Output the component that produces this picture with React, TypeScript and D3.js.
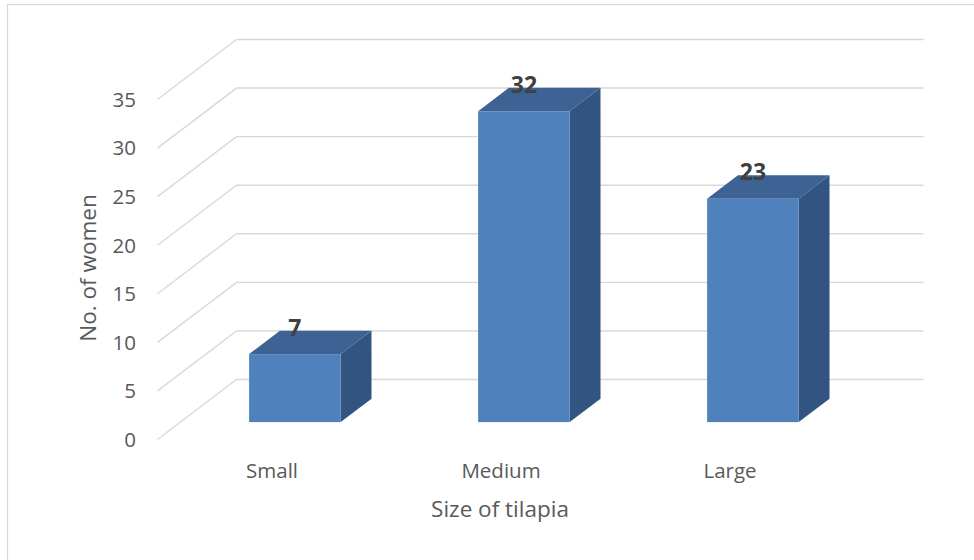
import * as d3 from "d3";

const categories = ["Small", "Medium", "Large"];
const values = [7, 32, 23];
const yTicks = [0, 5, 10, 15, 20, 25, 30, 35];
const yTitle = "No. of women";
const xTitle = "Size of tilapia";

const W = 974;
const H = 560;

// front plane of the 3D box, back wall is shifted by (DX, DY)
const FRONT_LEFT = 157.5;
const FRONT_RIGHT = 844.5;
const DX = 79;
const DY = -60;
// bars sit a bit inside the floor depth
const BAR_Z0 = 0.29;
const BAR_DEPTH = 0.39;

const FONT = "'Open Sans', 'DejaVu Sans', sans-serif";

export default function App() {
  const y = d3.scaleLinear().domain([0, 35]).range([439.5, 99.5]);
  const x = d3
    .scaleBand<string>()
    .domain(categories)
    .range([FRONT_LEFT, FRONT_RIGHT])
    .paddingInner(0.6)
    .paddingOuter(0.3);

  const gridPath = (v: number) => {
    const yf = y(v);
    return d3.line()([
      [FRONT_LEFT, yf],
      [FRONT_LEFT + DX, yf + DY],
      [FRONT_RIGHT + DX, yf + DY],
    ]);
  };

  const ox = DX * BAR_Z0;
  const oy = DY * BAR_Z0;
  const dx = DX * BAR_DEPTH;
  const dy = DY * BAR_DEPTH;

  return (
    <svg
      width={W}
      height={H}
      style={{ position: "absolute", left: 0, top: 0, background: "#fff" }}
    >
      <rect x={7.5} y={4.5} width={W + 20} height={H + 20} fill="#fff" stroke="#d9d9d9" strokeWidth={1.3} />

      {/* gridlines: side wall + back wall */}
      <g fill="none" stroke="#d9d9d9" strokeWidth={1.4}>
        {yTicks.map((t) => (
          <path key={t} d={gridPath(t) ?? ""} />
        ))}
      </g>

      {/* y tick labels */}
      <g fontFamily={FONT} fontSize={20.5} fill="#595959" textAnchor="end">
        {yTicks.map((t) => (
          <text key={t} x={136} y={y(t)} dy="0.36em">
            {t}
          </text>
        ))}
      </g>

      {/* bars */}
      {categories.map((c, i) => {
        const x0 = (x(c) ?? 0) + ox;
        const x1 = x0 + x.bandwidth();
        const yb = y(0) + oy;
        const yt = y(values[i]) + oy;
        return (
          <g key={c}>
            <path
              d={`M${x1},${yt}L${x1 + dx},${yt + dy}L${x1 + dx},${yb + dy}L${x1},${yb}Z`}
              fill="#325480"
            />
            <path
              d={`M${x0},${yt}L${x0 + dx},${yt + dy}L${x1 + dx},${yt + dy}L${x1},${yt}Z`}
              fill="#3c6394"
            />
            <rect x={x0} y={yt} width={x1 - x0} height={yb - yt} fill="#4f81bd" />
            <text
              x={(x0 + x1) / 2}
              y={yt - 18.5}
              textAnchor="middle"
              fontFamily={FONT}
              fontSize={23}
              fontWeight="bold"
              fill="#404040"
            >
              {values[i]}
            </text>
          </g>
        );
      })}

      {/* category labels */}
      <g fontFamily={FONT} fontSize={20.5} fill="#595959" textAnchor="middle">
        {categories.map((c) => (
          <text key={c} x={(x(c) ?? 0) + x.bandwidth() / 2} y={478}>
            {c}
          </text>
        ))}
      </g>

      <text x={500} y={517} textAnchor="middle" fontFamily={FONT} fontSize={22.5} fill="#595959">
        {xTitle}
      </text>
      <text
        transform="translate(96,268) rotate(-90)"
        textAnchor="middle"
        fontFamily={FONT}
        fontSize={22.5}
        fill="#595959"
      >
        {yTitle}
      </text>
    </svg>
  );
}
